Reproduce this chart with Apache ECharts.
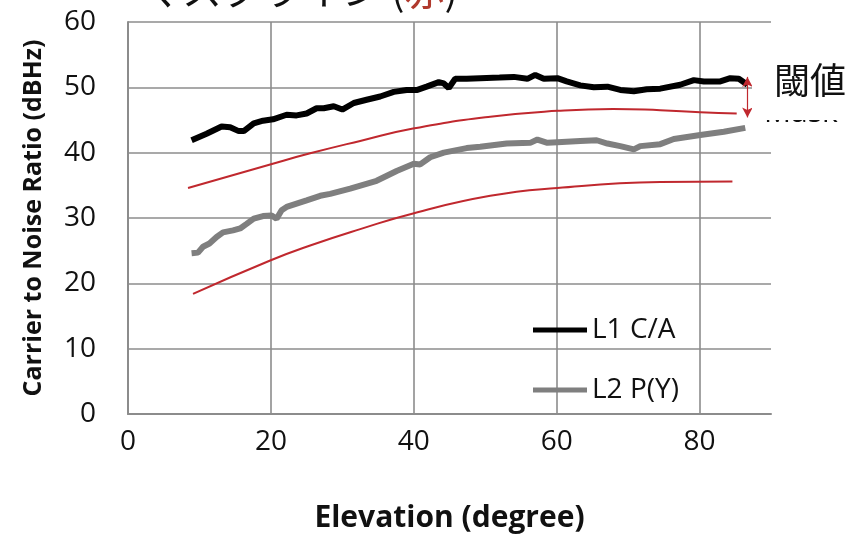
<!DOCTYPE html>
<html>
<head>
<meta charset="utf-8">
<script src="https://cdn.jsdelivr.net/npm/echarts@6/dist/echarts.min.js"></script>
<style>
html,body{margin:0;padding:0;background:#fff;}
#main{width:850px;height:538px;}
</style>
</head>
<body>
<div id="main"></div>
<script>
// ---- data ----
const xTicks = [0, 20, 40, 60, 80];
const yTicks = [0, 10, 20, 30, 40, 50, 60];

const l1Elev = [8.9, 11.0, 13.1, 14.3, 15.5, 16.2, 17.6, 18.9, 20.3, 22.2, 23.6, 25.0, 26.4, 27.4, 28.8, 30.0, 31.6, 33.4, 35.3, 37.2, 39.0, 40.5, 41.8, 43.5, 44.2, 44.9, 45.8, 47.4, 49.3, 52.0, 54.0, 55.9, 57.0, 58.2, 60.1, 61.4, 63.3, 65.2, 67.1, 68.9, 70.8, 72.6, 74.5, 77.3, 79.2, 80.6, 82.9, 84.3, 85.5, 86.7];
const l1CN = [41.9, 42.9, 44.0, 43.9, 43.3, 43.3, 44.5, 44.9, 45.1, 45.8, 45.7, 46.0, 46.8, 46.8, 47.1, 46.6, 47.6, 48.1, 48.6, 49.3, 49.6, 49.6, 50.1, 50.8, 50.6, 49.9, 51.3, 51.3, 51.4, 51.5, 51.6, 51.3, 51.9, 51.3, 51.4, 50.9, 50.3, 50.0, 50.1, 49.6, 49.4, 49.7, 49.8, 50.4, 51.1, 50.9, 50.9, 51.4, 51.3, 50.4];

const l2Elev = [8.9, 9.8, 10.5, 11.4, 12.4, 13.3, 14.7, 15.7, 16.6, 17.6, 18.9, 20.1, 20.8, 21.5, 22.2, 23.6, 25.0, 26.9, 28.3, 31.1, 34.8, 37.6, 40.0, 40.9, 42.3, 44.2, 47.4, 49.3, 53.0, 56.3, 57.3, 58.7, 60.1, 63.3, 65.6, 67.1, 68.9, 70.8, 71.7, 74.5, 76.4, 80.1, 83.4, 86.4];
const l2CN = [24.6, 24.7, 25.6, 26.1, 27.1, 27.8, 28.1, 28.4, 29.1, 29.9, 30.3, 30.4, 29.9, 31.2, 31.7, 32.2, 32.7, 33.4, 33.7, 34.5, 35.7, 37.2, 38.3, 38.2, 39.3, 40.0, 40.7, 40.9, 41.4, 41.5, 42.0, 41.5, 41.6, 41.8, 41.9, 41.4, 41.0, 40.5, 41.0, 41.3, 42.1, 42.7, 43.2, 43.8];

const maskUpElev = [8.4, 19.9, 25.5, 32.5, 39.9, 50.7, 60.1, 67.9, 74.5, 80.1, 85.2];
const maskUpCN = [34.6, 38.2, 39.9, 41.8, 43.7, 45.5, 46.4, 46.7, 46.5, 46.2, 46.0];

const maskLoElev = [9.1, 19.9, 25.5, 32.5, 39.9, 50.7, 60.1, 74.5, 84.6];
const maskLoCN = [18.4, 23.5, 25.8, 28.3, 30.7, 33.4, 34.6, 35.5, 35.6];

// threshold arrow (between L1 end and upper mask end)
const arrowElev = 86.7;
const arrowFrom = 51.6;
const arrowTo = 45.4;

const seriesNames = ['L1 C/A', 'L2 P(Y)'];
const titleText = 'マスクライン (';
const titleRed = '赤';
const thresholdText = '閾値';
const maskText = 'Mask';

const zip = (xs, ys) => xs.map((x, i) => [x, ys[i]]);

const FONT = '"Open Sans", "Noto Sans", sans-serif';
const CJK = '"Noto Sans CJK JP", sans-serif';
const RED = '#c0282e';
const GRID = '#8c8c8c';

const chart = echarts.init(document.getElementById('main'), null, {renderer: 'canvas'});
chart.setOption({
  animation: false,
  backgroundColor: '#fff',
  grid: {left: 128, top: 22, right: 79, bottom: 118, containLabel: false},
  xAxis: {
    type: 'value', min: xTicks[0], max: 90, interval: 20,
    name: 'Elevation (degree)', nameLocation: 'middle', nameGap: 89,
    nameTextStyle: {fontFamily: FONT, fontWeight: 'bold', fontSize: 30, color: '#111'},
    axisLine: {show: true, lineStyle: {color: GRID, width: 2}},
    axisTick: {show: false},
    axisLabel: {showMaxLabel: false, margin: 14, fontFamily: FONT, fontSize: 28, color: '#111'},
    splitLine: {show: true, showMaxLine: false, lineStyle: {color: GRID, width: 1.6}}
  },
  yAxis: {
    type: 'value', min: yTicks[0], max: yTicks[yTicks.length - 1], interval: 10,
    name: 'Carrier to Noise Ratio (dBHz)', nameLocation: 'middle', nameGap: 82, nameRotate: 90,
    nameTextStyle: {fontFamily: FONT, fontWeight: 'bold', fontSize: 25, color: '#111'},
    axisLine: {show: true, lineStyle: {color: GRID, width: 2}},
    axisTick: {show: false},
    axisLabel: {margin: 32, fontFamily: FONT, fontSize: 28, color: '#111'},
    splitLine: {show: true, lineStyle: {color: GRID, width: 1.6}}
  },
  legend: {
    data: seriesNames,
    orient: 'vertical', left: 528, top: 311,
    icon: 'rect', itemWidth: 54, itemHeight: 5, itemGap: 32,
    textStyle: {fontFamily: FONT, fontSize: 28, color: '#111'}
  },
  series: [
    {
      name: 'Mask upper', type: 'line', data: zip(maskUpElev, maskUpCN), smooth: true,
      symbol: 'none', lineStyle: {color: RED, width: 2}, z: 2
    },
    {
      name: 'Mask lower', type: 'line', data: zip(maskLoElev, maskLoCN), smooth: true,
      symbol: 'none', lineStyle: {color: RED, width: 2}, z: 2
    },
    {
      name: seriesNames[1], type: 'line', data: zip(l2Elev, l2CN),
      symbol: 'none', itemStyle: {color: '#7f7f7f'}, lineStyle: {color: '#7f7f7f', width: 6}, z: 3
    },
    {
      name: seriesNames[0], type: 'line', data: zip(l1Elev, l1CN),
      symbol: 'none', itemStyle: {color: '#000'}, lineStyle: {color: '#000', width: 6}, z: 4,
      markLine: {
        silent: true, symbol: ['arrow', 'arrow'], symbolSize: [8, 10],
        label: {show: false},
        lineStyle: {color: RED, width: 1.2, type: 'solid'},
        data: [[{coord: [arrowElev, arrowFrom]}, {coord: [arrowElev, arrowTo]}]]
      }
    }
  ],
  graphic: [
    {
      type: 'text', left: 142, top: -30, z: 10,
      style: {
        text: '{a|' + titleText + '}{r|' + titleRed + '}{a|)}',
        rich: {
          a: {fontFamily: CJK, fontSize: 40, fill: '#111'},
          r: {fontFamily: CJK, fontSize: 40, fill: '#b03a2e'}
        }
      }
    },
    {
      type: 'text', left: 764, top: 98, z: 10,
      style: {text: maskText, fontFamily: FONT, fontSize: 30, fill: '#111'}
    },
    {
      type: 'rect', z: 11, shape: {x: 752, y: 66, width: 98, height: 54},
      style: {fill: '#fff'}
    },
    {
      type: 'text', left: 774, top: 62, z: 12,
      style: {text: thresholdText, fontFamily: CJK, fontSize: 36, fill: '#111'}
    }
  ]
});
</script>
</body>
</html>
